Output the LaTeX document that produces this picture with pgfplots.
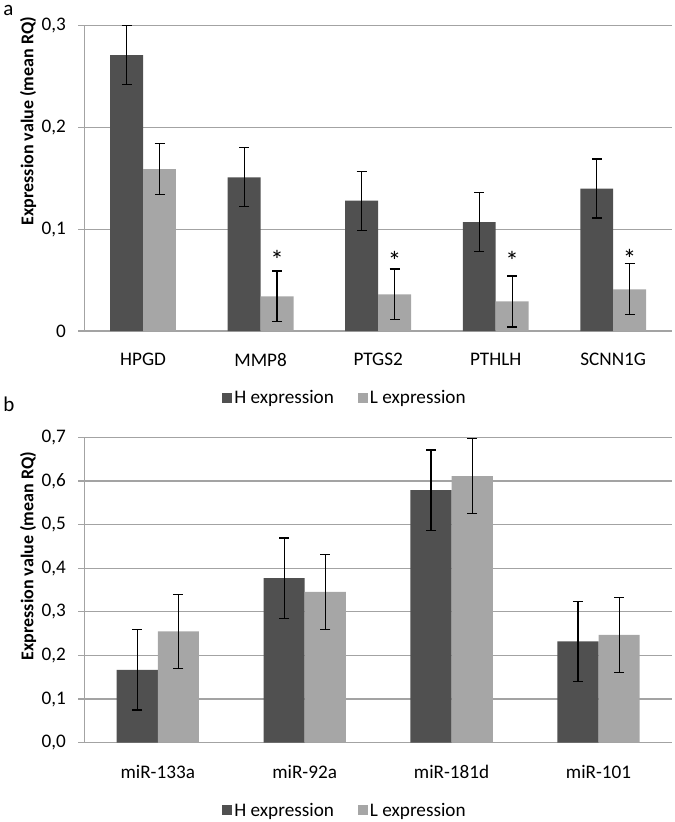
\documentclass[border=0pt]{standalone}
\usepackage{fontspec}
\setmainfont{Carlito}
\usepackage{pgfplots}
\usepackage{pgfplotstable}
\pgfplotsset{compat=1.18}
\definecolor{hexp}{HTML}{505050}
\definecolor{lexp}{HTML}{A6A6A6}
\definecolor{gridc}{HTML}{A3A3A3}
\newcommand{\fsz}{\fontsize{19.2bp}{23bp}\selectfont}
\newcommand{\lsz}{\fontsize{18bp}{21.6bp}\selectfont}

% mean RQ and error (half range) per category
\pgfplotstableread{
x  h      he     l      le
0  0.271  0.029  0.159  0.025
1  0.151  0.029  0.034  0.025
2  0.128  0.029  0.036  0.025
3  0.107  0.029  0.029  0.025
4  0.140  0.029  0.041  0.025
}\tabA
\pgfplotstableread{
x  h      he     l      le
0  0.167  0.092  0.255  0.085
1  0.377  0.092  0.346  0.086
2  0.579  0.092  0.611  0.086
3  0.232  0.091  0.247  0.086
}\tabB

\pgfplotsset{
  exprax/.style={
    scale only axis,
    width=587.7bp,
    axis x line*=bottom, axis y line*=left,
    axis line style={gridc, line width=1.3bp},
    ymajorgrids, grid style={gridc, line width=1.3bp},
    xtick=data, xtick style={draw=none},
    ytick style={gridc, line width=1.3bp},
    tick align=outside, major tick length=6bp,
    ymin=0,
    every tick label/.append style={font=\fsz},
    xticklabel style={yshift=-13bp},
    yticklabel style={xshift=-9bp},
    legend columns=2,
    legend style={draw=none, fill=none, font=\fsz, anchor=center,
      /tikz/every even column/.append style={column sep=22bp}},
    legend image code/.code={\fill[##1] (0bp,-5bp) rectangle (10bp,5bp);},
  },
  errs/.style={error bars/.cd, y dir=both, y explicit,
    error bar style={black, line width=1.2bp},
    error mark options={rotate=90, mark size=5bp, black, line width=1.2bp}},
  hbar/.style={ybar, bar width=0.28, bar shift=0pt, fill=hexp, draw=none, errs},
  lbar/.style={ybar, bar width=0.28, bar shift=0pt, fill=lexp, draw=none, errs},
}

\begin{document}
\begin{tikzpicture}
\useasboundingbox (0,0) rectangle (675bp,-822bp);

% ===== panel a =====
\begin{axis}[
  exprax,
  at={(84.3bp,-331bp)}, anchor=south west,
  height=305.3bp,
  xmin=-0.5, xmax=4.5,
  ymax=0.3,
  ytick={0,0.1,0.2,0.3},
  yticklabels={0,{0,1},{0,2},{0,3}},
  xtick={0,1,2,3,4},
  xticklabels={HPGD,MMP8,PTGS2,PTHLH,SCNN1G},
  legend style={at={(0.4436,-0.2195)}},
]
  \addplot[hbar] table[x expr=\thisrow{x}-0.14, y=h, y error=he] {\tabA};
  \addlegendentry{H expression}
  \addplot[lbar] table[x expr=\thisrow{x}+0.14, y=l, y error=le] {\tabA};
  \addlegendentry{L expression}
  % significance marks over the L bars
  \addplot[forget plot, only marks, mark=*, mark size=0pt,
    mark options={draw=none, fill=none},
    nodes near coords={*},
    every node near coord/.style={font=\fontsize{27bp}{27bp}\selectfont,
      anchor=center, inner sep=0pt}]
    coordinates {(1.14,0.070) (2.14,0.069) (3.14,0.069) (4.14,0.071)};
\end{axis}

\node[anchor=base west, inner sep=0pt, font=\fontsize{21bp}{21bp}\selectfont]
  at (3.3bp,-15bp) {a};
\node[rotate=90, font=\lsz\bfseries] at (28bp,-121bp) {Expression value (mean RQ)};

% ===== panel b =====
\begin{axis}[
  exprax,
  at={(84.3bp,-742.7bp)}, anchor=south west,
  height=305.4bp,
  xmin=-0.5, xmax=3.5,
  ymax=0.7,
  ytick={0,0.1,0.2,0.3,0.4,0.5,0.6,0.7},
  yticklabels={{0,0},{0,1},{0,2},{0,3},{0,4},{0,5},{0,6},{0,7}},
  xtick={0,1,2,3},
  xticklabels={miR-133a,miR-92a,miR-181d,miR-101},
  legend style={at={(0.4436,-0.221)}},
]
  \addplot[hbar] table[x expr=\thisrow{x}-0.14, y=h, y error=he] {\tabB};
  \addlegendentry{H expression}
  \addplot[lbar] table[x expr=\thisrow{x}+0.14, y=l, y error=le] {\tabB};
  \addlegendentry{L expression}
\end{axis}

\node[anchor=base west, inner sep=0pt, font=\fontsize{21bp}{21bp}\selectfont]
  at (3.3bp,-411.7bp) {b};
\node[rotate=90, font=\lsz\bfseries] at (28bp,-556bp) {Expression value (mean RQ)};
\end{tikzpicture}
\end{document}
